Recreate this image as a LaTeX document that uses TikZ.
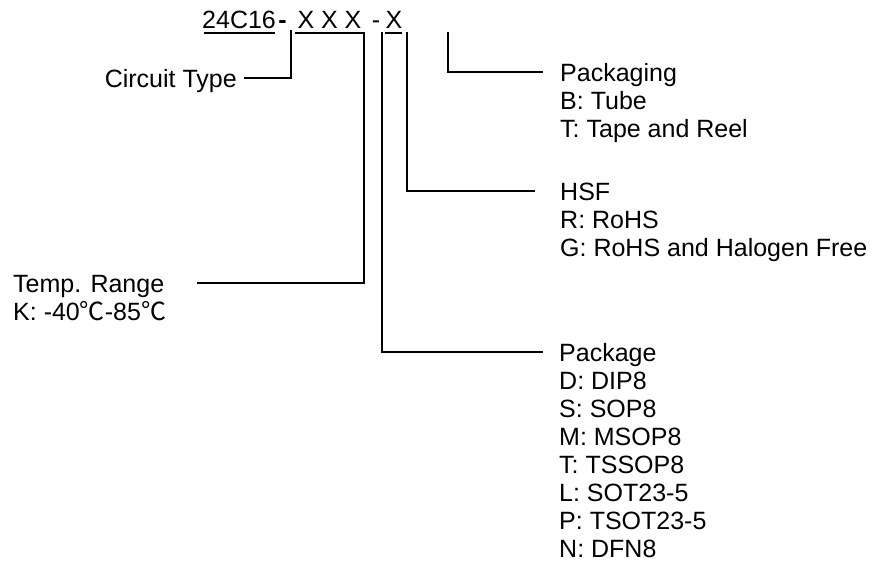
\documentclass[tikz,border=0pt]{standalone}
\usepackage{fontspec}
\setmainfont{Liberation Sans}
\newfontfamily\cjk{Noto Sans CJK SC}
\begin{document}
\begin{tikzpicture}[x=1pt,y=-1pt,
  lbl/.style={font=\fontsize{25}{28}\selectfont, inner sep=0pt, anchor=base west},
  code/.style={font=\fontsize{25}{28}\selectfont, inner sep=0pt, anchor=base},
  ln/.style={line width=1.5pt, line cap=rect},
  ul/.style={line width=1.4pt}]
\useasboundingbox (0,0) rectangle (874,571);
% top code
\node[code, anchor=base west] (n24) at (202,28) {24C16};
\node[code, font=\fontsize{25}{28}\selectfont\bfseries] (hy1) at (282.5,28) {-};
\node[code] (x1) at (306,28) {X};
\node[code] (x2) at (329.5,28) {X};
\node[code] (x3) at (353,28) {X};
\node[code] (hy2) at (376,28) {-};
\node[code] (x4) at (394,28) {X};
\draw[ul] (204,33) -- (275,33);
\draw[ul] (295,33) -- (365,33);
\draw[ul] (385,33) -- (402,33);
% labels
\node[lbl, anchor=base east] (ct) at (237,87) {Circuit Type};
\node[lbl] (tr) at (13,292) {Temp. Range};
\node[lbl] (tr1) at (13,320) {K: -40{\cjk ℃}-85{\cjk ℃}};
\node[lbl] (pg) at (560,81) {Packaging};
\node[lbl] (pg1) at (560,109) {B: Tube};
\node[lbl] (pg2) at (560,137) {T: Tape and Reel};
\node[lbl] (hsf) at (560,200) {HSF};
\node[lbl] (hsf1) at (560,228) {R: RoHS};
\node[lbl] (hsf2) at (560,256) {G: RoHS and Halogen Free};
\node[lbl] (pk) at (559,361) {Package};
\node[lbl] (pk1) at (559,389) {D: DIP8};
\node[lbl] (pk2) at (559,417) {S: SOP8};
\node[lbl] (pk3) at (559,445) {M: MSOP8};
\node[lbl] (pk4) at (559,473) {T: TSSOP8};
\node[lbl] (pk5) at (559,501) {L: SOT23-5};
\node[lbl] (pk6) at (559,529) {P: TSOT23-5};
\node[lbl] (pk7) at (559,557) {N: DFN8};
% connector anchors
\coordinate (sCT) at (291,31);
\coordinate (eCT) at (245,78);
\coordinate (sTR) at (364,33);
\coordinate (eTR) at (198,283);
\coordinate (sPK) at (382,33);
\coordinate (ePK) at (542,352);
\coordinate (sHS) at (407,33);
\coordinate (eHS) at (534,191);
\coordinate (sPG) at (448,33);
\coordinate (ePG) at (542,72);
\draw[ln] (sCT) |- (eCT);
\draw[ln] (sTR) |- (eTR);
\draw[ln] (sPK) |- (ePK);
\draw[ln] (sHS) |- (eHS);
\draw[ln] (sPG) |- (ePG);
\end{tikzpicture}
\end{document}
